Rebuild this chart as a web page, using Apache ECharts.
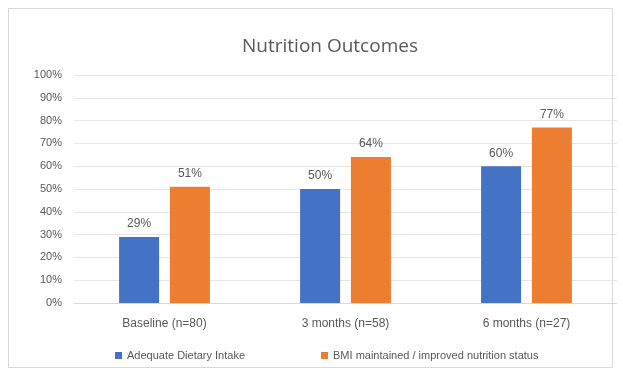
<!DOCTYPE html>
<html>
<head>
<meta charset="utf-8">
<script src="https://cdn.jsdelivr.net/npm/echarts@6/dist/echarts.min.js"></script>
<style>
html,body{margin:0;padding:0;background:#fff;}
#wrap{position:absolute;left:8px;top:8px;width:605px;height:360px;border:1px solid #d9d9d9;box-sizing:border-box;}
#chart{position:absolute;left:0;top:0;width:623px;height:378px;}
</style>
</head>
<body>
<div id="wrap"></div>
<div id="chart"></div>
<script>
const categories = ['Baseline (n=80)', '3 months (n=58)', '6 months (n=27)'];
const seriesNames = ['Adequate Dietary Intake', 'BMI maintained / improved nutrition status'];
const dietary = [29, 50, 60];
const bmi = [51, 64, 77];
const yTicks = [0, 10, 20, 30, 40, 50, 60, 70, 80, 90, 100];

const chart = echarts.init(document.getElementById('chart'));
const labelStyle = {show: true, position: 'top', formatter: p => p.value + '%', color: '#595959', fontSize: 12, fontFamily: 'Liberation Sans', distance: 7};
chart.setOption({
  animation: false,
  title: {text: 'Nutrition Outcomes', left: 325, top: 32, textAlign: 'center',
    textStyle: {color: '#595959', fontSize: 19, fontWeight: 'normal', fontFamily: 'Open Sans'}},
  grid: {left: 74, right: 6, top: 75, bottom: 75},
  legend: {bottom: 12, left: 110, itemGap: 76, itemWidth: 7, itemHeight: 7, icon: 'rect',
    textStyle: {color: '#595959', fontSize: 11, fontFamily: 'Liberation Sans'},
    data: seriesNames},
  xAxis: {type: 'category', data: categories,
    axisLine: {lineStyle: {color: '#d9d9d9'}}, axisTick: {show: false},
    axisLabel: {color: '#595959', fontSize: 12, fontFamily: 'Liberation Sans', margin: 15}},
  yAxis: {type: 'value', min: yTicks[0], max: yTicks[yTicks.length - 1], interval: 10,
    axisLine: {show: false}, axisTick: {show: false},
    splitLine: {lineStyle: {color: '#e6e6e6'}},
    axisLabel: {color: '#595959', fontSize: 11, fontFamily: 'Liberation Sans', formatter: v => v + '%', margin: 12}},
  series: [
    {name: seriesNames[0], type: 'bar', data: dietary, barWidth: 40, barGap: '27%',
      itemStyle: {color: '#4472C4'}, label: labelStyle},
    {name: seriesNames[1], type: 'bar', data: bmi, barWidth: 40,
      itemStyle: {color: '#ED7D31'}, label: labelStyle}
  ]
});
</script>
</body>
</html>
